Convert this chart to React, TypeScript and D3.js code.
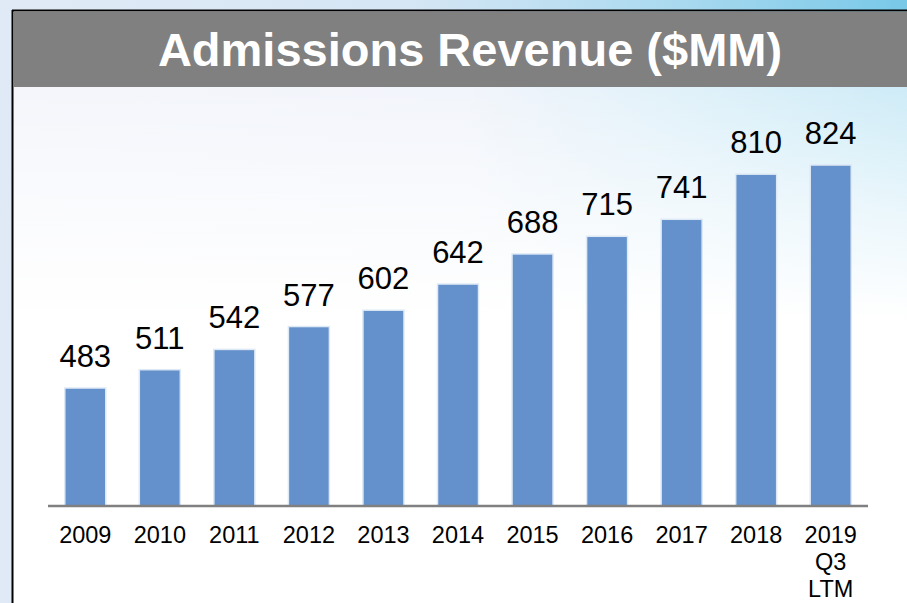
import React from "react";
import * as d3 from "d3";

const categories: string[][] = [
  ["2009"], ["2010"], ["2011"], ["2012"], ["2013"], ["2014"],
  ["2015"], ["2016"], ["2017"], ["2018"], ["2019", "Q3", "LTM"],
];
const revenue: number[] = [483, 511, 542, 577, 602, 642, 688, 715, 741, 810, 824];
const title = "Admissions Revenue ($MM)";
const yDomain: [number, number] = [302.6, 900];

const W = 907;
const H = 603;

export default function App() {
  const x = d3
    .scaleBand<number>()
    .domain(d3.range(revenue.length))
    .range([48, 868])
    .paddingInner(0.45)
    .paddingOuter(0.225);
  const y = d3.scaleLinear().domain(yDomain).range([506, 115.3]);
  const font = "'Liberation Sans', Arial, sans-serif";

  return (
    <svg
      width={W}
      height={H}
      style={{ position: "absolute", left: 0, top: 0 }}
      fontFamily={font}
    >
      <defs>
        <linearGradient id="bgH" x1="0" y1="0" x2="1" y2="0">
          <stop offset="0" stopColor="#e0eaf6" />
          <stop offset="0.45" stopColor="#d6e6f4" />
          <stop offset="0.75" stopColor="#a9d9ef" />
          <stop offset="1" stopColor="#78c8e8" />
        </linearGradient>
        <linearGradient id="fadeV" x1="0" y1="0" x2="0" y2="1">
          <stop offset="0" stopColor="#ffffff" stopOpacity="0" />
          <stop offset="0.35" stopColor="#ffffff" stopOpacity="0.75" />
          <stop offset="0.6" stopColor="#ffffff" stopOpacity="1" />
          <stop offset="1" stopColor="#ffffff" stopOpacity="1" />
        </linearGradient>
        <linearGradient id="inner" x1="0" y1="0" x2="1" y2="0">
          <stop offset="0" stopColor="#f4f6fb" />
          <stop offset="0.5" stopColor="#f2f5fb" />
          <stop offset="0.8" stopColor="#dcf0f9" />
          <stop offset="1" stopColor="#cdebf7" />
        </linearGradient>
        <linearGradient id="innerFade" x1="0" y1="0" x2="0" y2="1">
          <stop offset="0" stopColor="#ffffff" stopOpacity="0" />
          <stop offset="0.25" stopColor="#ffffff" stopOpacity="0.6" />
          <stop offset="0.45" stopColor="#ffffff" stopOpacity="1" />
          <stop offset="1" stopColor="#ffffff" stopOpacity="1" />
        </linearGradient>
      </defs>

      {/* slide background */}
      <rect x={0} y={0} width={W} height={H} fill="url(#bgH)" />
      <rect x={0} y={0} width={W} height={H} fill="#e6eef8" opacity={0.0} />

      {/* chart frame */}
      <rect x={13} y={11} width={W} height={H} fill="url(#inner)" />
      <rect x={13} y={87} width={W} height={H - 87} fill="url(#innerFade)" />
      <line x1={12.5} y1={10} x2={12.5} y2={H} stroke="#000" strokeWidth={2} />
      <line x1={12} y1={10.5} x2={W} y2={10.5} stroke="#000" strokeWidth={2} />

      {/* title bar */}
      <rect x={14} y={12} width={W - 14} height={75} fill="#808080" />
      <text
        x={470}
        y={66}
        textAnchor="middle"
        fill="#ffffff"
        fontWeight="bold"
        fontSize={47}
      >
        {title}
      </text>

      {/* bars */}
      {revenue.map((v, i) => (
        <rect
          key={`b${i}`}
          x={x(i)!}
          y={y(v)}
          width={x.bandwidth()}
          height={y(yDomain[0]) - y(v)}
          fill="#6490cb"
          stroke="#dde9f5"
          strokeWidth={1.5}
        />
      ))}

      {/* value labels */}
      {revenue.map((v, i) => (
        <text
          key={`v${i}`}
          x={x(i)! + x.bandwidth() / 2}
          y={y(v) - 21}
          textAnchor="middle"
          fontSize={31}
          fill="#000"
        >
          {v}
        </text>
      ))}

      {/* baseline */}
      <line
        x1={x.range()[0]}
        x2={x.range()[1]}
        y1={506}
        y2={506}
        stroke="#808080"
        strokeWidth={2.5}
      />

      {/* category labels */}
      {categories.map((lines, i) => (
        <text
          key={`c${i}`}
          x={x(i)! + x.bandwidth() / 2}
          y={543}
          textAnchor="middle"
          fontSize={23.5}
          fill="#000"
        >
          {lines.map((t, j) => (
            <tspan key={j} x={x(i)! + x.bandwidth() / 2} dy={j === 0 ? 0 : 27}>
              {t}
            </tspan>
          ))}
        </text>
      ))}
    </svg>
  );
}
